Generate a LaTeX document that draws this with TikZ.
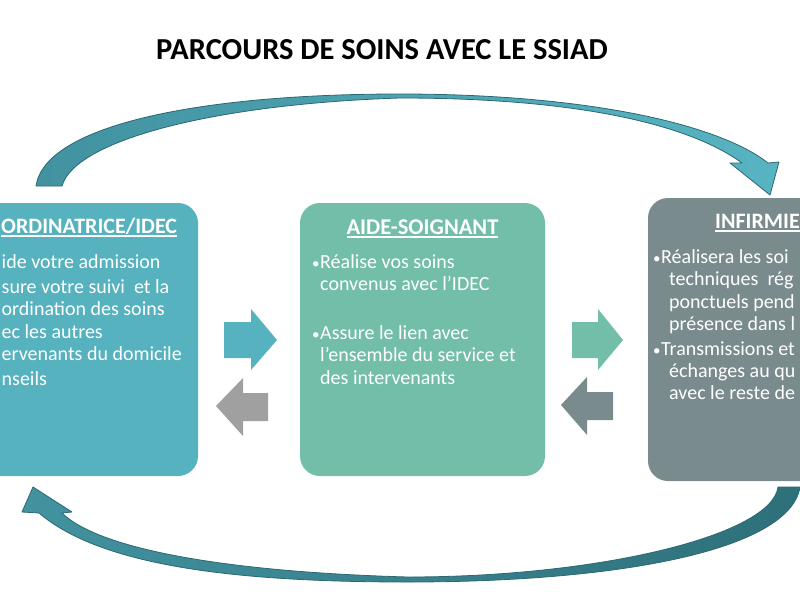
\documentclass[tikz,border=0pt]{standalone}
\usepackage{fontspec}
\setmainfont{Carlito}
\newcommand\myul[1]{\setbox0\hbox{#1}\rlap{\rule[-3.5pt]{\wd0}{1.8pt}}\box0}
\newcommand\bul{\llap{{\fontsize{15}{15}\selectfont •}\hspace{0.5pt}}}
\definecolor{cBlue}{RGB}{86,178,190}
\definecolor{cGreen}{RGB}{115,190,168}
\definecolor{cSlate}{RGB}{122,139,141}
\definecolor{cGray}{RGB}{160,160,160}
\definecolor{cArcDark}{RGB}{44,104,114}
\definecolor{cArcA}{RGB}{66,146,160}
\definecolor{cArcB}{RGB}{88,180,194}
\definecolor{cArcC}{RGB}{46,112,122}
\begin{document}
\begin{tikzpicture}[x=1pt,y=-1pt,
  box/.style={draw=none, rounded corners=20pt, minimum width=245pt, inner sep=0},
  txt/.style={text=white, anchor=base west, inner sep=0, font=\fontsize{20}{22.5}\selectfont},
  hdr/.style={text=white, inner sep=0, font=\bfseries\fontsize{22.5}{26}\selectfont},
  arc/.style={draw=cArcDark, line width=0.8pt, line join=round}]
\useasboundingbox (0,0) rectangle (800,600);
\fill[white] (0,0) rectangle (800,600);

% title
\node[anchor=base, inner sep=0, font=\bfseries\fontsize{30.5}{36}\selectfont] (title) at (382,59) {PARCOURS DE SOINS AVEC LE SSIAD};

% boxes
\node[box, fill=cBlue, minimum height=273pt] (coord) at (75.5,339.5) {};
\node[box, fill=cGreen, minimum height=273pt] (aide) at (422.5,339.5) {};
\node[box, fill=cSlate, minimum height=283pt] (inf) at (770.5,339.5) {};

% left box text (as cut by the picture's left edge)
\node[hdr, anchor=base west, font=\bfseries\fontsize{22}{26}\selectfont] (ct) at (1,233) {\myul{ORDINATRICE/IDEC}};
\node[txt] (c1) at (1.5,268) {ide votre admission};
\node[txt] (c2) at (1.5,293) {sure votre suivi\ \ et la};
\node[txt] (c3) at (1.5,315.5) {ordination des soins};
\node[txt] (c4) at (1.5,338) {ec les autres};
\node[txt] (c5) at (1.5,360.5) {ervenants du domicile};
\node[txt] (c6) at (1.5,385.5) {nseils};

% middle box text
\node[hdr, anchor=base] (at) at (422.5,234) {\myul{AIDE-SOIGNANT}};
\node[txt] (a1) at (320,268) {\bul Réalise vos soins};
\node[txt] (a2) at (320,290.5) {convenus avec l'IDEC};
\node[txt] (a3) at (320,339) {\bul Assure le lien avec};
\node[txt] (a4) at (320,361.5) {l'ensemble du service et};
\node[txt] (a5) at (320,384) {des intervenants};

% right box text (as cut by the picture's right edge)
\node[hdr, anchor=base west, font=\bfseries\fontsize{22}{26}\selectfont] (it) at (715,228) {\myul{INFIRMIE}};
\node[txt] (i1) at (661,263) {\bul Réalisera les soi};
\node[txt] (i2) at (669,285.5) {techniques\ \ rég};
\node[txt] (i3) at (669,308) {ponctuels pend};
\node[txt] (i4) at (669,330) {présence dans l};
\node[txt] (i5) at (661,355) {\bul Transmissions et};
\node[txt] (i6) at (669,377) {échanges au qu};
\node[txt] (i7) at (669,399) {avec le reste de};

% block arrows
\fill[cBlue] (224,322) -- (251,322) -- (251,309) -- (277,340) -- (251,370) -- (251,358) -- (224,358) -- cycle;
\fill[cGray] (268,393) -- (243,393) -- (243,378) -- (216,406) -- (243,436) -- (243,421) -- (268,421) -- cycle;
\fill[cGreen] (572,322) -- (598,322) -- (598,309) -- (623,340) -- (598,370) -- (598,358) -- (572,358) -- cycle;
\fill[cSlate] (613,392) -- (587,392) -- (587,377) -- (561,405) -- (587,435) -- (587,420) -- (613,420) -- cycle;

% top curved arrow
\draw[arc, left color=cArcA, right color=cArcB]
  (36,186) .. controls (45,125) and (200,94) .. (400,94)
  .. controls (590,94) and (720,125) .. (768,163)
  -- (779,162) -- (770,195) -- (730,163) -- (742,163)
  .. controls (690,125) and (580,98) .. (400,98)
  .. controls (215,104) and (75,140) .. (62,186) -- cycle;

% bottom curved arrow
\draw[arc, left color=cArcA, right color=cArcC]
  (778,487) .. controls (772,535) and (600,577) .. (408,577)
  .. controls (230,572) and (100,550) .. (62,513)
  -- (72,512) -- (33,487) -- (22,512) -- (39,513)
  .. controls (100,565) and (230,582) .. (408,582)
  .. controls (620,582) and (790,550) .. (800,487) -- cycle;
\end{tikzpicture}
\end{document}
